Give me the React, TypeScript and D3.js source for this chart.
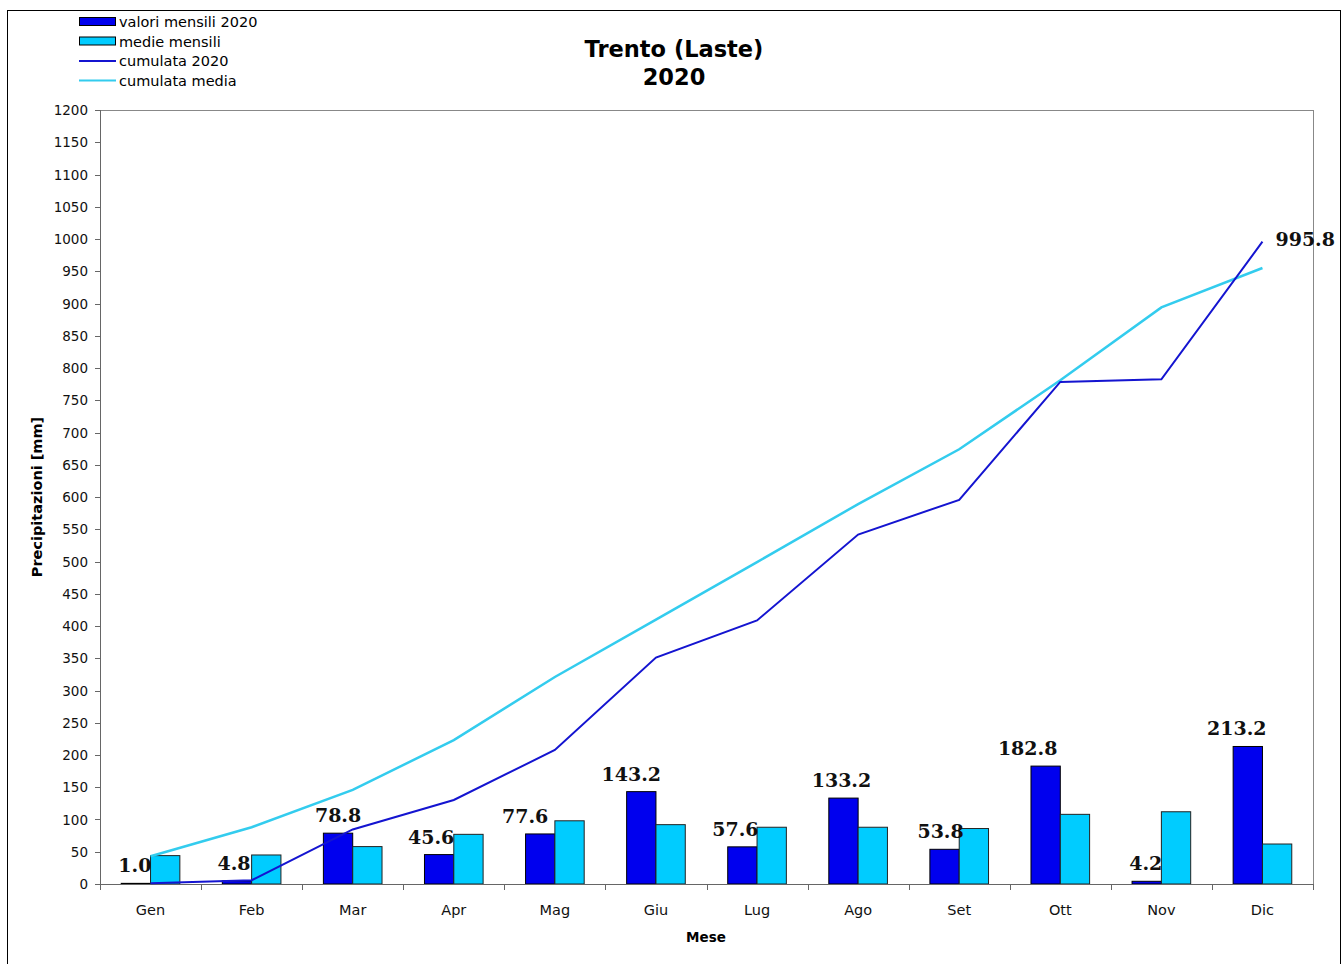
import React from "react";
import * as d3 from "d3";

const months = ["Gen", "Feb", "Mar", "Apr", "Mag", "Giu", "Lug", "Ago", "Set", "Ott", "Nov", "Dic"];
const monthly2020 = [1.0, 4.8, 78.8, 45.6, 77.6, 143.2, 57.6, 133.2, 53.8, 182.8, 4.2, 213.2];
const monthlyMean = [44, 45, 58, 77, 98, 92, 88, 88, 86, 108, 112, 62];
const cumulative2020 = [1.0, 5.8, 84.6, 130.2, 207.8, 351.0, 408.6, 541.8, 595.6, 778.4, 782.6, 995.8];
const cumulativeMean = [43, 88, 146, 223, 321, 410, 499, 589, 674, 781, 894, 955];
const yTicks = d3.range(0, 1201, 50);

// horizontal nudges for the monthly value labels, in px
const labelNudge = [-1, -3, 0, -8, -15, -10, -7, -2, -4, -18, -1, -11];

const W = 1343;
const H = 964;
const left = 100;
const right = 1313;
const top = 110;
const bottom = 884;

const DARK = "#0000EE";
const CYAN = "#00CCFF";
const LINE_DARK = "#1414D0";
const LINE_CYAN = "#33CCEE";
const SANS = "Verdana, 'DejaVu Sans', sans-serif";
const SERIF = "'DejaVu Serif', serif";

export default function App() {
  const x = d3.scaleBand<string>().domain(months).range([left, right]).padding(0);
  const y = d3.scaleLinear().domain([0, 1200]).range([bottom, top]);
  const bw = x.bandwidth() * 0.29;
  const cx = (m: string) => (x(m) as number) + x.bandwidth() / 2;

  const line = d3
    .line<number>()
    .x((_, i) => cx(months[i]))
    .y((d) => y(d));

  const legend = [
    { label: "valori mensili 2020", kind: "rect", color: DARK },
    { label: "medie mensili", kind: "rect", color: CYAN },
    { label: "cumulata 2020", kind: "line", color: LINE_DARK },
    { label: "cumulata media", kind: "line", color: LINE_CYAN },
  ];

  return (
    <svg
      width={W}
      height={H}
      style={{ position: "absolute", left: 0, top: 0, display: "block", background: "#fff" }}
    >
      <rect x={7.5} y={10.5} width={1333} height={970} fill="#fff" stroke="#000" strokeWidth={1} />

      {/* legend */}
      {legend.map((d, i) => {
        const ly = 22 + i * 19.5;
        return (
          <g key={d.label}>
            {d.kind === "rect" ? (
              <rect x={79.5} y={ly - 4.5} width={36} height={8} fill={d.color} stroke="#000" strokeWidth={1} />
            ) : (
              <line x1={79} x2={116} y1={ly} y2={ly} stroke={d.color} strokeWidth={2} />
            )}
            <text x={119} y={ly + 5} fontFamily={SANS} fontSize={14.5} fill="#000">
              {d.label}
            </text>
          </g>
        );
      })}

      {/* title */}
      <text x={674} y={57} textAnchor="middle" fontFamily={SANS} fontWeight="bold" fontSize={22.5} fill="#000">
        Trento (Laste)
      </text>
      <text x={674} y={85} textAnchor="middle" fontFamily={SANS} fontWeight="bold" fontSize={22.5} fill="#000">
        2020
      </text>

      {/* plot frame */}
      <line x1={left} x2={right} y1={top + 0.5} y2={top + 0.5} stroke="#888" strokeWidth={1} />
      <line x1={right + 0.5} x2={right + 0.5} y1={top} y2={bottom} stroke="#888" strokeWidth={1} />

      {/* y axis */}
      <line x1={left + 0.5} x2={left + 0.5} y1={top} y2={bottom} stroke="#666" strokeWidth={1} />
      {yTicks.map((t) => (
        <g key={t}>
          <line x1={left - 5} x2={left} y1={Math.round(y(t)) + 0.5} y2={Math.round(y(t)) + 0.5} stroke="#666" />
          <text x={left - 12} y={y(t) + 5} textAnchor="end" fontFamily={SANS} fontSize={13.5} fill="#111">
            {t}
          </text>
        </g>
      ))}
      <text
        transform={`translate(42, ${(top + bottom) / 2}) rotate(-90)`}
        textAnchor="middle"
        fontFamily={SANS}
        fontWeight="bold"
        fontSize={14.5}
        fill="#000"
      >
        Precipitazioni [mm]
      </text>

      {/* bars */}
      {months.map((m, i) => (
        <g key={m}>
          <rect
            x={cx(m) - bw}
            y={y(monthly2020[i])}
            width={bw}
            height={bottom - y(monthly2020[i])}
            fill={DARK}
            stroke="#000"
            strokeWidth={1}
          />
          <rect
            x={cx(m)}
            y={y(monthlyMean[i])}
            width={bw}
            height={bottom - y(monthlyMean[i])}
            fill={CYAN}
            stroke="#222"
            strokeWidth={1}
          />
        </g>
      ))}

      {/* x axis */}
      <line x1={left} x2={right + 1} y1={bottom + 0.5} y2={bottom + 0.5} stroke="#666" strokeWidth={1} />
      {months.concat(["end"]).map((m, i) => {
        const tx = Math.round(left + i * x.bandwidth()) + 0.5;
        return <line key={m} x1={tx} x2={tx} y1={bottom} y2={bottom + 6} stroke="#666" />;
      })}
      {months.map((m) => (
        <text key={m} x={cx(m)} y={915} textAnchor="middle" fontFamily={SANS} fontSize={14.5} fill="#111">
          {m}
        </text>
      ))}
      <text x={706} y={942} textAnchor="middle" fontFamily={SANS} fontWeight="bold" fontSize={13.5} fill="#000">
        Mese
      </text>

      {/* cumulative lines */}
      <path d={line(cumulativeMean) || ""} fill="none" stroke={LINE_CYAN} strokeWidth={2.5} />
      <path d={line(cumulative2020) || ""} fill="none" stroke={LINE_DARK} strokeWidth={2} />

      {/* value labels */}
      {months.map((m, i) => (
        <text
          key={m}
          x={cx(m) - bw / 2 + labelNudge[i]}
          y={y(monthly2020[i]) - 11}
          textAnchor="middle"
          fontFamily={SERIF}
          fontWeight="bold"
          fontSize={19}
          fill="#111"
        >
          {monthly2020[i].toFixed(1)}
        </text>
      ))}
      <text
        x={cx("Dic") + 13}
        y={y(cumulative2020[11]) + 4}
        fontFamily={SERIF}
        fontWeight="bold"
        fontSize={19}
        fill="#111"
      >
        {cumulative2020[11].toFixed(1)}
      </text>
    </svg>
  );
}
